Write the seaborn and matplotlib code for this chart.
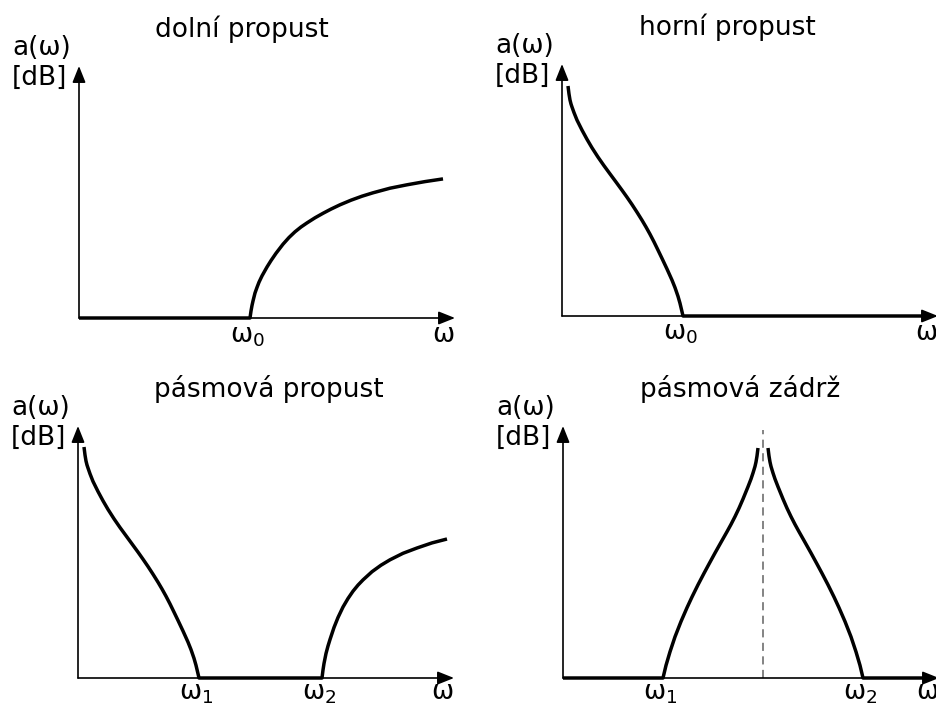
import matplotlib
matplotlib.use("Agg")
import matplotlib.pyplot as plt
import numpy as np
import pandas as pd
import seaborn as sns

sns.set_theme(style="white")
plt.rcParams["font.family"] = ["DejaVu Sans"]
plt.rcParams["mathtext.fontset"] = "dejavusans"
plt.rcParams["text.color"] = "black"

# ---------------------------------------------------------------------------
# Attenuation characteristics a(ω) of the four basic filter types
# (schematic units: ω along the frequency axis, a(ω) in dB upwards)
# ---------------------------------------------------------------------------
TITLES = ["dolní propust", "horní propust", "pásmová propust", "pásmová zádrž"]

# low-pass: zero attenuation up to ω0, then rising
lp_w = [0, 171, 172, 173, 174, 176, 178, 180, 183, 188, 192, 197, 204, 210,
        216, 222, 228, 236, 244, 252, 261, 272, 283, 294, 311, 328, 346, 364]
lp_a = [0, 0, 7, 12.5, 17, 25, 30.6, 35.8, 42.1, 51, 57.4, 64.7, 73.8, 80.5,
        86.2, 91.0, 95.1, 100.2, 104.7, 108.9, 113.2, 117.8, 121.8, 125.2,
        129.8, 133.2, 136.4, 139.1]
lp_ticks = [171]
lp_ticklabels = [r"$\mathregular{ω_0}$"]

# high-pass: falling attenuation down to ω0, then zero
hp_w = [6, 7, 8, 9, 10, 12, 15, 20, 25, 30, 36, 42, 48, 54, 60, 65, 70, 75,
        80, 84, 88, 92, 96, 100, 105, 110, 113, 116, 118, 120, 121, 362]
hp_a = [230, 222, 216, 212, 209, 203.4, 195.9, 185.9, 176.7, 168.2, 158.9,
        150.3, 142.1, 134.0, 125.8, 118.8, 111.5, 103.8, 95.8, 89.0, 81.8,
        74.1, 65.9, 57.6, 47.0, 35.9, 28.4, 19.7, 12.7, 4.3, 0, 0]
hp_ticks = [121]
hp_ticklabels = [r"$\mathregular{ω_0}$"]

# band-pass: zero attenuation between ω1 and ω2
bp_w = [6, 7, 8, 9, 10, 12, 15, 20, 25, 30, 36, 42, 48, 54, 60, 65, 70, 75,
        80, 84, 88, 92, 96, 100, 105, 110, 113, 116, 118, 120, 121,
        244, 245, 246, 248, 250, 252, 256, 260, 265, 270, 275, 280, 285, 294,
        303, 312, 325, 339, 354, 369]
bp_a = [231, 223, 217, 213, 210, 204.2, 196.6, 186.5, 177.2, 168.6, 159.2,
        150.5, 142.3, 134.1, 125.9, 118.8, 111.5, 103.8, 95.8, 89.0, 81.8,
        74.1, 65.9, 57.6, 47.0, 35.9, 28.4, 19.7, 12.7, 4.3, 0,
        0, 8, 14.5, 24.5, 32, 38.5, 50.5, 60.5, 71, 79.5, 86.8, 92.9, 98.1,
        106.3, 112.8, 118.2, 124.7, 130, 135.1, 139]
bp_ticks = [121, 244]
bp_ticklabels = [r"$\mathregular{ω_1}$", r"$\mathregular{ω_2}$"]

# band-stop: attenuation peak between ω1 and ω2 (two branches)
bs_left_w = [0, 100, 103, 107, 112, 118, 124, 129, 135, 141, 146, 152, 158,
             164, 168, 172, 176, 180, 185, 188, 190, 192, 193, 194, 195]
bs_left_a = [0, 0, 12.6, 26.2, 41.2, 56.5, 70.3, 81.05, 93.2, 104.7, 114, 125,
             135.7, 146.3, 153.6, 161.4, 169.8, 179, 191.25, 199, 205, 211.6,
             216, 222, 230]
bs_right_w = [205, 206, 207, 208, 210, 212, 215, 220, 224, 228, 232, 236, 242,
              248, 254, 259, 265, 271, 276, 282, 288, 293, 297, 300, 362]
bs_right_a = [230, 222, 216, 211.6, 205, 199, 191.25, 179, 169.8, 161.4, 153.6,
              146.3, 135.7, 125, 114, 104.7, 93.2, 81.05, 70.3, 56.5, 41.2,
              26.2, 12.6, 0, 0]
bs_ticks = [100, 300]
bs_ticklabels = [r"$\mathregular{ω_1}$", r"$\mathregular{ω_2}$"]
bs_center = 200

# frame geometry of one diagram (axis lengths in the same schematic units)
W_MAX = 376
A_MAX = 252

# ---------------------------------------------------------------------------
FIG_W, FIG_H = 937, 706
fig = plt.figure(figsize=(FIG_W / 100, FIG_H / 100), dpi=100)
fig.patch.set_facecolor("white")

# origins of the four diagrams in figure pixels (x from left, y from top)
origins = [(79, 318), (562, 316), (78, 678), (563, 678)]
title_x = [163, 165, 191, 177]
label_drop = [24, 24, 21, 21]


def make_axes(ox, oy):
    ax = fig.add_axes([ox / FIG_W, 1 - oy / FIG_H, W_MAX / FIG_W, A_MAX / FIG_H])
    ax.set_xlim(0, W_MAX)
    ax.set_ylim(0, A_MAX)
    ax.set_axis_off()
    return ax


def draw_frame(ax, title, tx, ticks, ticklabels, drop):
    arrow = dict(arrowstyle="-|>,head_length=0.5,head_width=0.2",
                 lw=1.2, color="black", shrinkA=0, shrinkB=0, mutation_scale=20)
    ax.annotate("", xy=(W_MAX, 0), xytext=(0, 0), arrowprops=arrow,
                annotation_clip=False)
    ax.annotate("", xy=(0, A_MAX), xytext=(0, 0), arrowprops=arrow,
                annotation_clip=False)
    fs = 19
    ax.text(tx, 281, title, ha="center", va="baseline", fontsize=fs, clip_on=False)
    ax.text(-67, 263, "a(ω)", ha="left", va="baseline", fontsize=fs, clip_on=False)
    ax.text(-67, 233, "[dB]", ha="left", va="baseline", fontsize=fs, clip_on=False)
    ax.text(364, -drop, "ω", ha="center", va="baseline", fontsize=fs, clip_on=False)
    for t, lab in zip(ticks, ticklabels):
        ax.text(t - 3, -drop, lab, ha="center", va="baseline", fontsize=fs,
                clip_on=False)


def draw_curves(ax, segments):
    frames = []
    for k, (w, a) in enumerate(segments):
        frames.append(pd.DataFrame({"ω": w, "a": a, "seg": k}))
    df = pd.concat(frames, ignore_index=True)
    sns.lineplot(data=df, x="ω", y="a", units="seg", estimator=None, sort=False,
                 color="black", lw=2.5, ax=ax, legend=False,
                 solid_capstyle="butt", solid_joinstyle="round", clip_on=False)
    ax.set_axis_off()
    ax.set_xlim(0, W_MAX)
    ax.set_ylim(0, A_MAX)


specs = [
    ([(lp_w, lp_a)], lp_ticks, lp_ticklabels),
    ([(hp_w, hp_a)], hp_ticks, hp_ticklabels),
    ([(bp_w, bp_a)], bp_ticks, bp_ticklabels),
    ([(bs_left_w, bs_left_a), (bs_right_w, bs_right_a)], bs_ticks, bs_ticklabels),
]

for i, ((ox, oy), (segs, ticks, labels)) in enumerate(zip(origins, specs)):
    ax = make_axes(ox, oy)
    draw_curves(ax, segs)
    if i == 3:
        ax.axvline(bs_center, ymin=0, ymax=248 / A_MAX, color="#7a7a7a",
                   lw=1.3, ls=(0, (4.5, 3)))
    draw_frame(ax, TITLES[i], title_x[i], ticks, labels, label_drop[i])

fig.savefig("out.png", dpi=100, facecolor="white")
